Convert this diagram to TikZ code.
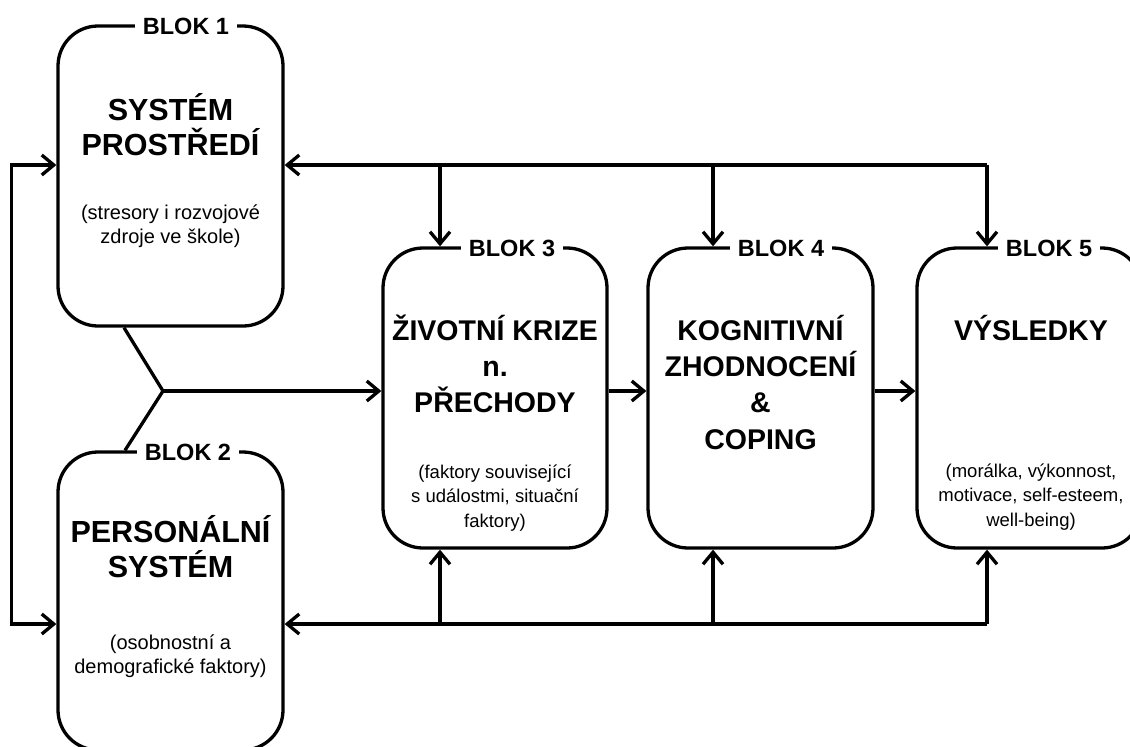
\documentclass[tikz,border=0pt]{standalone}
\usepackage{fontspec}
\setmainfont{Liberation Sans}
\usetikzlibrary{arrows.meta}
\newcommand\mystrut[1]{\rule{0pt}{#1}}
\begin{document}
\begin{tikzpicture}[x=1pt,y=-1pt,
  box/.style={draw, line width=3.3pt, rounded corners=40pt, minimum width=225pt, minimum height=300pt, inner sep=0pt},
  blok/.style={fill=white, font=\fontsize{23.5}{28}\selectfont\bfseries, inner xsep=8pt, inner ysep=1pt},
  ttlA/.style={align=center, anchor=north, inner sep=0pt, font=\fontsize{30.5}{35}\selectfont\bfseries},
  ttlB/.style={align=center, anchor=north, inner sep=0pt, font=\fontsize{28.5}{36.3}\selectfont\bfseries},
  subA/.style={align=center, anchor=north, inner sep=0pt, font=\fontsize{20}{24.5}\selectfont},
  subB/.style={align=center, anchor=north, inner sep=0pt, font=\fontsize{18.5}{24.5}\selectfont},
  conn/.style={line width=3.3pt},
  arr/.style={conn, -{Straight Barb[length=12pt,width=20pt]}},
  darr/.style={conn, {Straight Barb[length=12pt,width=20pt]}-{Straight Barb[length=12pt,width=20pt]}},
]
\useasboundingbox[fill=white] (0,0) rectangle (1130,747);

% boxes
\node[box] (b1) at (170.5,176) {};
\node[box, minimum height=298pt] (b2) at (170.5,601) {};
\node[box, minimum width=224pt] (b3) at (495,398) {};
\node[box] (b4) at (760.5,398) {};
\node[box] (b5) at (1029.5,398) {};

% block labels
\node[blok] (l1) at (186,26) {BLOK 1};
\node[blok] (l2) at (188,452) {BLOK 2};
\node[blok] (l3) at (512,248) {BLOK 3};
\node[blok] (l4) at (781,248) {BLOK 4};
\node[blok] (l5) at (1049,248) {BLOK 5};

% texts
\node[ttlA] (t1) at (170.5,90) {\mystrut{30pt}SYSTÉM\\PROSTŘEDÍ};
\node[subA] (s1) at (170.5,199) {\mystrut{20pt}(stresory i rozvojové\\zdroje ve škole)};
\node[ttlA] (t2) at (170.5,512) {\mystrut{30pt}PERSONÁLNÍ\\SYSTÉM};
\node[subA] (s2) at (170.5,629) {\mystrut{20pt}(osobnostní a\\demografické faktory)};
\node[ttlB] (t3) at (495,312) {\mystrut{28pt}ŽIVOTNÍ KRIZE\\n.\\PŘECHODY};
\node[subB] (s3) at (495,459) {\mystrut{19pt}(faktory související\\s událostmi, situační\\faktory)};
\node[ttlB] (t4) at (760.5,312) {\mystrut{28pt}KOGNITIVNÍ\\ZHODNOCENÍ\\\&\\COPING};
\node[ttlB] (t5) at (1031,312) {\mystrut{28pt}VÝSLEDKY};
\node[subB] (s5) at (1031,458) {\mystrut{19pt}(morálka, výkonnost,\\motivace, self-esteem,\\well-being)};

% helper coordinates
\coordinate (topy) at (0,165);
\coordinate (boty) at (0,624);
\coordinate (j) at (163,391);
\coordinate (ta) at (440,165);
\coordinate (tb) at (713,165);
\coordinate (tc) at (987,165);
\coordinate (ua) at (440,624);
\coordinate (ub) at (713,624);
\coordinate (uc) at (987,624);

% left loop
\draw[darr, rounded corners=0pt] (b1.west |- topy) -- ++(-45,0) |- (b2.west |- boty);

% top line with down arrows
\draw[arr] (tc) -- (b1.east |- topy);
\draw[arr] (ta) -- (ta |- b3.north);
\draw[arr] (tb) -- (tb |- b4.north);
\draw[arr] (tc) -- (tc |- b5.north);

% bottom line with up arrows
\draw[arr] (uc) -- (b2.east |- boty);
\draw[arr] (ua) -- (ua |- b3.south);
\draw[arr] (ub) -- (ub |- b4.south);
\draw[arr] (uc) -- (uc |- b5.south);

% branch
\draw[conn] ([xshift=-46.5pt]b1.south) -- (j) -- ([xshift=-45.5pt]b2.north);
\draw[arr] (j) -- (j -| b3.west);

% horizontal chain
\draw[arr] (b3.east |- j) -- (b4.west |- j);
\draw[arr] (b4.east |- j) -- (b5.west |- j);
\end{tikzpicture}
\end{document}
